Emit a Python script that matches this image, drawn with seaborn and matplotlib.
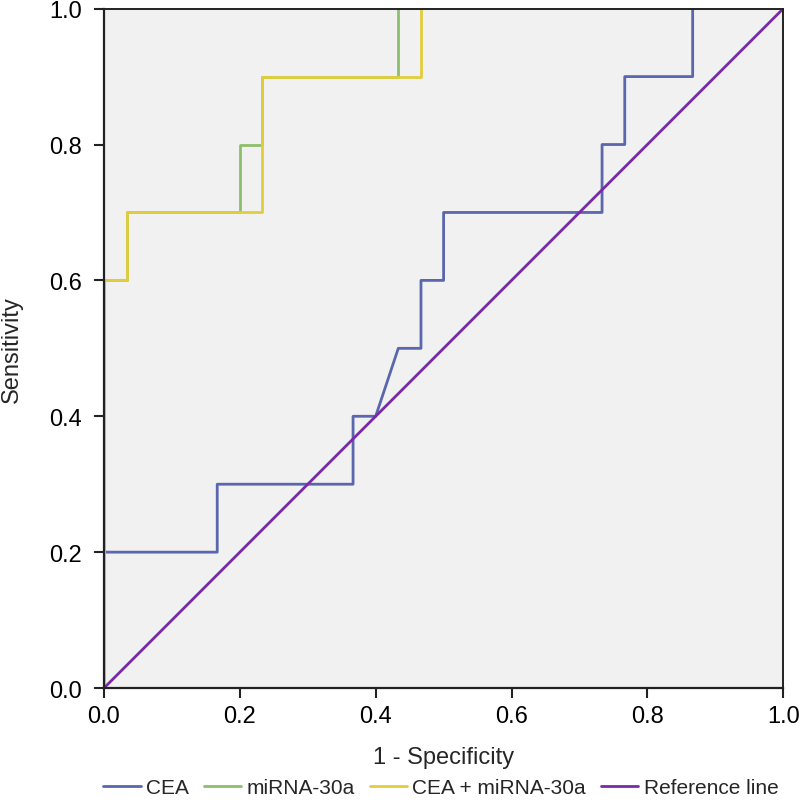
import matplotlib
matplotlib.use("Agg")
import matplotlib.pyplot as plt
import seaborn as sns
import pandas as pd
from matplotlib.lines import Line2D

# Data
cea_x = [0.0, 0.0, 0.1667, 0.1667, 0.3667, 0.3667, 0.4, 0.4333, 0.4667, 0.4667, 0.5, 0.5, 0.7333, 0.7333, 0.7667, 0.7667, 0.8667, 0.8667]
cea_y = [0.0, 0.2, 0.2, 0.3, 0.3, 0.4, 0.4, 0.5, 0.5, 0.6, 0.6, 0.7, 0.7, 0.8, 0.8, 0.9, 0.9, 1.0]
mir_x = [0.0, 0.0, 0.0333, 0.0333, 0.2, 0.2, 0.2333, 0.2333, 0.4333, 0.4333]
mir_y = [0.0, 0.6, 0.6, 0.7, 0.7, 0.8, 0.8, 0.9, 0.9, 1.0]
comb_x = [0.0, 0.0, 0.0333, 0.0333, 0.2333, 0.2333, 0.4667, 0.4667]
comb_y = [0.0, 0.6, 0.6, 0.7, 0.7, 0.9, 0.9, 1.0]
ref_x = [0.0, 1.0]
ref_y = [0.0, 1.0]

series_names = ["CEA", "miRNA-30a", "CEA + miRNA-30a", "Reference line"]
colors = ["#5a66ad", "#8cbf6c", "#e2cd3c", "#7a2aa8"]
tick_values = [0.0, 0.2, 0.4, 0.6, 0.8, 1.0]
tick_labels = ["0.0", "0.2", "0.4", "0.6", "0.8", "1.0"]

rows = []
for name, xs, ys in zip(series_names, [cea_x, mir_x, comb_x, ref_x], [cea_y, mir_y, comb_y, ref_y]):
    for i, (a, b) in enumerate(zip(xs, ys)):
        rows.append({"series": name, "x": a, "y": b, "order": i})
df = pd.DataFrame(rows)

sns.set_style("ticks")
plt.rcParams["font.family"] = ["Liberation Sans", "DejaVu Sans"]

fig = plt.figure(figsize=(8.0, 8.04), dpi=100)
ax = fig.add_axes([0.13, 0.143, 0.849, 0.845])
ax.set_facecolor("#f1f1f1")

palette = dict(zip(series_names, colors))
for name in series_names:
    sub = df[df["series"] == name]
    sns.lineplot(data=sub, x="x", y="y", sort=False, estimator=None,
                 color=palette[name], linewidth=2.0, ax=ax, legend=False)

ax.set_xlim(0, 1)
ax.set_ylim(0, 1)
ax.set_xticks(tick_values)
ax.set_yticks(tick_values)
ax.set_xticklabels(tick_labels, fontsize=17)
ax.set_yticklabels(tick_labels, fontsize=17)
ax.tick_params(direction="out", length=7, width=1.5, colors="#222222", labelcolor="black")
ax.tick_params(axis="x", pad=5)
ax.tick_params(axis="y", pad=9)
for s in ["left", "bottom"]:
    ax.spines[s].set_linewidth(1.6)
    ax.spines[s].set_color("#222222")
for s in ["top", "right"]:
    ax.spines[s].set_linewidth(1.4)
    ax.spines[s].set_color("#222222")
ax.set_xlabel("1 - Specificity", fontsize=17)
ax.set_ylabel("Sensitivity", fontsize=17)
ax.xaxis.set_label_coords(0.5, -0.086)
ax.yaxis.set_label_coords(-0.119, 0.5)

handles = [Line2D([0], [0], color=c, linewidth=2.0) for c in colors]
fig.legend(handles, series_names, loc="center left", bbox_to_anchor=(103 / 800, 0.019),
           ncol=4, frameon=False, fontsize=15, handlelength=1.8, columnspacing=0.72,
           handletextpad=0.25, borderpad=0, borderaxespad=0)

fig.savefig("out.png", dpi=100)
